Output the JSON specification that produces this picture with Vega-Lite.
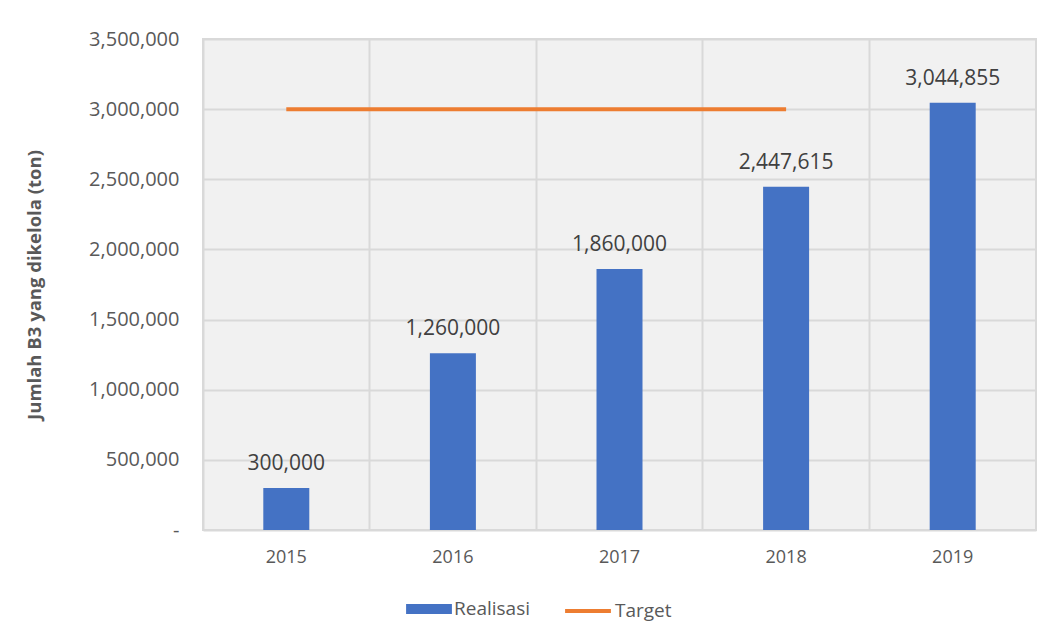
{
  "$schema": "https://vega.github.io/schema/vega-lite/v6.json",
  "width": 833,
  "height": 491,
  "autosize": {"type": "none"},
  "padding": {"left": 203, "top": 39, "right": 20, "bottom": 112},
  "background": "white",
  "config": {
    "font": "Open Sans",
    "view": {"fill": "#f1f1f1", "stroke": "#d9d9d9", "strokeWidth": 2},
    "axis": {"labelFont": "Open Sans", "titleFont": "Open Sans", "labelColor": "#595959", "titleColor": "#595959", "gridColor": "#d9d9d9", "gridWidth": 2, "domain": false, "ticks": false}
  },
  "data": {
    "values": [
      {"year": "2015", "realisasi": 300000, "target": 3000000},
      {"year": "2016", "realisasi": 1260000, "target": 3000000},
      {"year": "2017", "realisasi": 1860000, "target": 3000000},
      {"year": "2018", "realisasi": 2447615, "target": 3000000},
      {"year": "2019", "realisasi": 3044855, "target": null}
    ]
  },
  "encoding": {
    "x": {
      "field": "year", "type": "nominal",
      "scale": {"paddingInner": 0, "paddingOuter": 0},
      "axis": {"title": null, "labelAngle": 0, "labelFontSize": 18, "labelPadding": 18, "bandPosition": 0, "grid": true}
    }
  },
  "layer": [
    {
      "mark": {"type": "bar", "size": 46},
      "encoding": {
        "y": {
          "field": "realisasi", "type": "quantitative",
          "scale": {"domain": [0, 3500000]},
          "axis": {"title": "Jumlah B3 yang dikelola (ton)", "titleFontSize": 18.5, "titleFontWeight": "bold", "titlePadding": 44, "labelFontSize": 20, "labelPadding": 24, "labelOverlap": false, "values": [0, 500000, 1000000, 1500000, 2000000, 2500000, 3000000, 3500000], "labelExpr": "datum.value == 0 ? '-' : format(datum.value, ',')", "grid": true}
        },
        "fill": {
          "datum": "Realisasi", "type": "nominal",
          "scale": {"domain": ["Realisasi"], "range": ["#4472C4"]},
          "legend": {"title": null, "orient": "none", "legendX": 203, "legendY": 547, "symbolType": "M-1,-0.22H1V0.22H-1Z", "symbolSize": 2100, "labelFontSize": 19, "labelColor": "#595959", "symbolStrokeWidth": 0, "labelOffset": 2}
        }
      }
    },
    {
      "mark": {"type": "line", "strokeWidth": 4},
      "encoding": {
        "y": {"field": "target", "type": "quantitative"},
        "stroke": {
          "datum": "Target", "type": "nominal",
          "scale": {"domain": ["Target"], "range": ["#ED7D31"]},
          "legend": {"title": null, "orient": "none", "legendX": 360, "legendY": 547, "symbolType": "M-1,0H1", "symbolSize": 2100, "symbolStrokeWidth": 4, "labelFontSize": 19, "labelColor": "#595959", "labelOffset": 2}
        }
      }
    },
    {
      "mark": {"type": "text", "dy": -24, "fontSize": 21, "color": "#404040"},
      "encoding": {
        "y": {"field": "realisasi", "type": "quantitative"},
        "text": {"field": "realisasi", "type": "quantitative", "format": ","}
      }
    }
  ],
  "resolve": {"legend": {"fill": "independent", "stroke": "independent"}}
}
